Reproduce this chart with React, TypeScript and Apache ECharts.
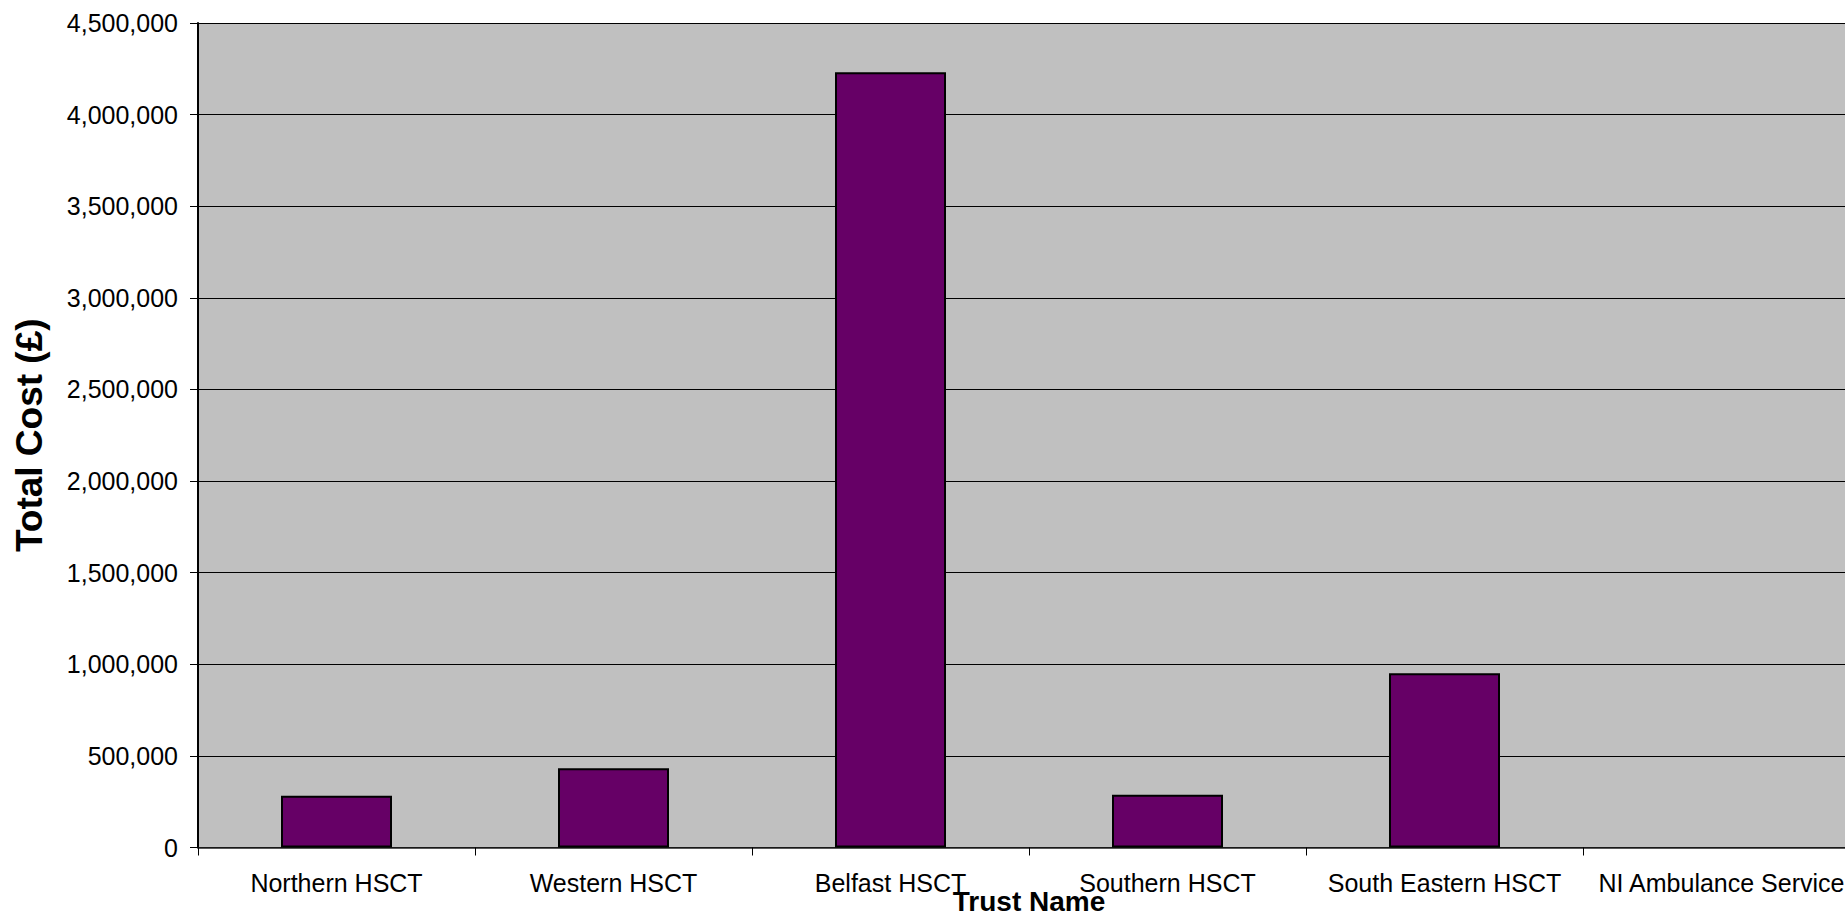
import React, { useEffect, useRef } from "react";
import * as echarts from "echarts";

const categories = [
  "Northern HSCT",
  "Western HSCT",
  "Belfast HSCT",
  "Southern HSCT",
  "South Eastern HSCT",
  "NI Ambulance Service",
];
const totalCost = [283000, 432000, 4231000, 288000, 951000, 0];
const yTitle = "Total Cost (£)";
const xTitle = "Trust Name";

const FONT = "'Liberation Sans', Arial, Helvetica, sans-serif";

export default function App() {
  const ref = useRef<HTMLDivElement>(null);
  useEffect(() => {
    if (!ref.current) return;
    const chart = echarts.init(ref.current, undefined, { renderer: "svg" });
    chart.setOption({
      animation: false,
      backgroundColor: "#ffffff",
      textStyle: { fontFamily: FONT },
      grid: {
        left: 198,
        top: 23,
        bottom: 70.5,
        right: -15,
        show: true,
        backgroundColor: "#C0C0C0",
        borderWidth: 0,
        containLabel: false,
        outerBoundsMode: "none",
      },
      xAxis: {
        type: "category",
        data: categories,
        name: xTitle,
        nameLocation: "middle",
        nameGap: 40,
        nameMoveOverlap: false,
        nameTextStyle: { fontSize: 28, fontWeight: "bold", color: "#000", fontFamily: FONT },
        axisLine: { show: true, lineStyle: { color: "#222", width: 1.5 } },
        axisTick: { show: true, length: 8, lineStyle: { color: "#000", width: 1 } },
        axisLabel: { fontSize: 25, color: "#000", margin: 23, fontFamily: FONT, interval: 0 },
        splitLine: { show: false },
      },
      yAxis: {
        type: "value",
        min: 0,
        max: 4500000,
        interval: 500000,
        name: yTitle,
        nameLocation: "middle",
        nameGap: 150,
        nameMoveOverlap: false,
        nameTextStyle: { fontSize: 37, fontWeight: "bold", color: "#000", fontFamily: FONT },
        axisLine: { show: true, lineStyle: { color: "#000", width: 2 } },
        axisTick: { show: true, length: 8, lineStyle: { color: "#000", width: 1 } },
        axisLabel: {
          fontSize: 25,
          color: "#000",
          margin: 20,
          fontFamily: FONT,
          formatter: (v: number) => v.toLocaleString("en-US"),
        },
        splitLine: { show: true, lineStyle: { color: "#000", width: 1 } },
      },
      series: [
        {
          type: "bar",
          data: totalCost.map((v) => ({
            value: v,
            itemStyle: v === 0 ? { borderWidth: 0, opacity: 0 } : undefined,
          })),
          barWidth: 111,
          itemStyle: { color: "#660066", borderColor: "#000", borderWidth: 2 },
        },
      ],
    });
    return () => chart.dispose();
  }, []);
  return (
    <div
      ref={ref}
      style={{ position: "fixed", left: 0, top: 0, width: 1845, height: 918 }}
    />
  );
}
